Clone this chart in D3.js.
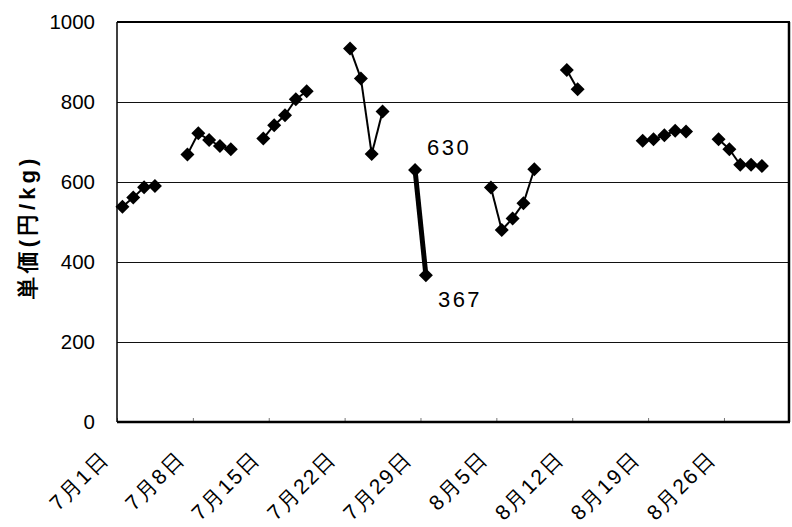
<!DOCTYPE html>
<html><head><meta charset="utf-8">
<script src="https://cdn.jsdelivr.net/npm/d3@7"></script>
<style>
html,body{margin:0;padding:0;background:#fff;}
svg{display:block;}
text{font-family:"Liberation Sans",Arial,sans-serif;fill:#000;}
</style></head>
<body>
<svg id="c" width="792" height="527"></svg>
<script>
// ---- data ----
const dates = ["7/1","7/2","7/3","7/4","7/7","7/8","7/9","7/10","7/11",
  "7/14","7/15","7/16","7/17","7/18","7/22","7/23","7/24","7/25",
  "7/28","7/29","8/4","8/5","8/6","8/7","8/8","8/11","8/12",
  "8/18","8/19","8/20","8/21","8/22","8/25","8/26","8/27","8/28","8/29"];
const prices = [538,561,587,590,669,722,705,690,682,
  709,742,767,807,827,934,859,670,776,
  630,367,586,480,509,547,632,880,832,
  703,707,717,728,726,707,682,643,643,640];
const highlightDates = ["7/28","7/29"];
const highlightLabels = ["630","367"];
const tickDates = ["7/1","7/8","7/15","7/22","7/29","8/5","8/12","8/19","8/26"];
const tickLabels = ["7月1日","7月8日","7月15日","7月22日","7月29日","8月5日","8月12日","8月19日","8月26日"];
const yTicks = [0,200,400,600,800,1000];
const yTitle = "単価(円/kg)";

const YEAR = 2003;
const toDate = s => { const [m,d] = s.split("/").map(Number); return new Date(YEAR, m-1, d); };
const DAY = 864e5;

const svg = d3.select("#c");
const L = 117, R = 789, T = 22, B = 422;
const x = d3.scaleTime().domain([toDate("7/1"), toDate("9/1")]).range([L, R]);
const y = d3.scaleLinear().domain([0,1000]).range([B, T]);
const cx = s => x(new Date(+toDate(s) + DAY/2));

// gridlines
svg.append("g").selectAll("line").data(yTicks.filter(v => v>0 && v<1000)).join("line")
  .attr("x1", L).attr("x2", R).attr("y1", d=>y(d)+0.5).attr("y2", d=>y(d)+0.5)
  .attr("stroke", "#111").attr("stroke-width", 1);

// x axis with inner ticks
const xAxis = d3.axisBottom(x).tickValues(tickDates.map(toDate)).tickSize(-4).tickFormat("");
const gx = svg.append("g").attr("transform", `translate(0,${B})`).call(xAxis);
gx.select(".domain").remove();
gx.selectAll(".tick line").attr("stroke","#777").attr("stroke-width",1);

// y axis labels
const yAxis = d3.axisLeft(y).tickValues(yTicks).tickSize(0).tickPadding(22).tickFormat(d3.format("d"));
const gy = svg.append("g").attr("transform", `translate(${L},0)`).call(yAxis);
gy.select(".domain").remove();
gy.selectAll(".tick text").attr("font-size", 20.5).attr("font-family","Liberation Sans, Arial, sans-serif").attr("fill","#000");

// frame
svg.append("line").attr("x1",L).attr("x2",L).attr("y1",T).attr("y2",B).attr("stroke","#000").attr("stroke-width",1.5);
svg.append("line").attr("x1",L).attr("x2",R+1).attr("y1",B).attr("y2",B).attr("stroke","#000").attr("stroke-width",2.5);
svg.append("line").attr("x1",L).attr("x2",R+1).attr("y1",T).attr("y2",T).attr("stroke","#000").attr("stroke-width",2);
svg.append("line").attr("x1",R).attr("x2",R).attr("y1",T).attr("y2",B).attr("stroke","#000").attr("stroke-width",2.5);

// x tick labels
svg.append("g").selectAll("text").data(tickDates).join("text")
  .attr("transform", (d,i) => `translate(${x(toDate(d)) - 7},${B + 38}) rotate(-45)`)
  .attr("text-anchor","end")
  .attr("font-size", 21).attr("letter-spacing", 2)
  .attr("font-family","Liberation Sans, Arial, sans-serif")
  .text((d,i) => tickLabels[i]);

// y title
svg.append("text").attr("transform", `translate(35,227) rotate(-90)`)
  .attr("text-anchor","middle").attr("font-size", 22).attr("letter-spacing", 4)
  .attr("font-family","Noto Sans CJK JP, sans-serif").attr("font-weight","bold")
  .text(yTitle);

// line segments between consecutive days
const pts = dates.map((d,i) => ({d, t: toDate(d), v: prices[i]}));
const segs = [];
for (let i=1;i<pts.length;i++){
  if (Math.round((pts[i].t - pts[i-1].t)/DAY) === 1) segs.push([pts[i-1], pts[i]]);
}
const line = d3.line().x(p => cx(p.d)).y(p => y(p.v));
svg.append("g").selectAll("path").data(segs).join("path")
  .attr("d", line).attr("fill","none").attr("stroke","#000")
  .attr("stroke-width", s => (highlightDates.includes(s[0].d) && highlightDates.includes(s[1].d)) ? 5 : 2);

// markers
const hs = 7;
svg.append("g").selectAll("path").data(pts).join("path")
  .attr("d", p => { const X=cx(p.d), Y=y(p.v); return `M${X},${Y-hs}L${X+hs},${Y}L${X},${Y+hs}L${X-hs},${Y}Z`; })
  .attr("fill","#000");

// data labels
svg.append("g").selectAll("text").data(highlightDates).join("text")
  .attr("x", (d,i) => cx(d) + 12)
  .attr("y", (d,i) => { const v = prices[dates.indexOf(d)]; return i===0 ? y(v) - 15 : y(v) + 32; })
  .attr("font-size", 22).attr("letter-spacing", 2.5)
  .text((d,i) => highlightLabels[i]);
</script>
</body></html>
